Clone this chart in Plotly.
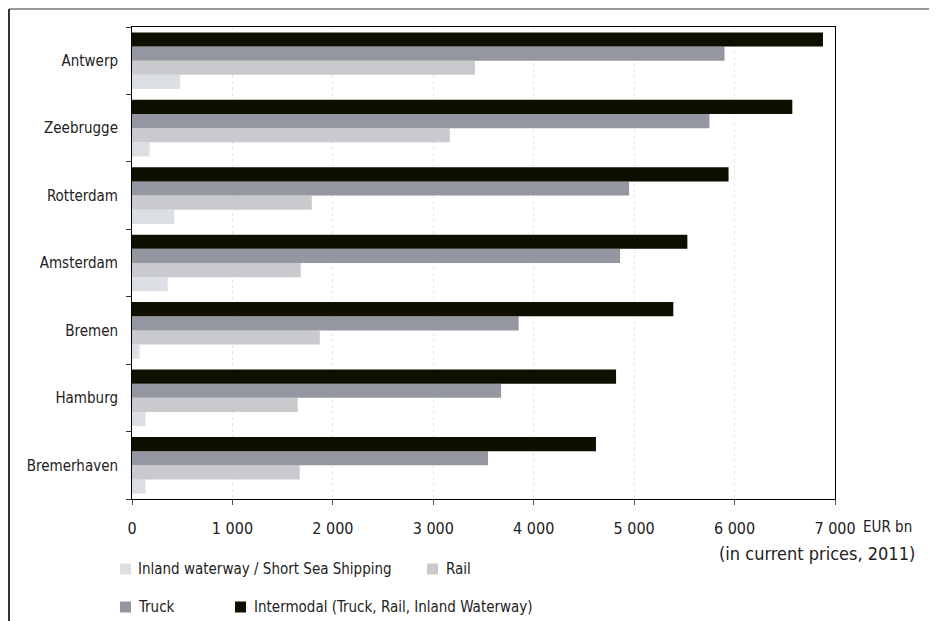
import plotly.graph_objects as go

# ---- data ----
ports = ["Antwerp", "Zeebrugge", "Rotterdam", "Amsterdam", "Bremen", "Hamburg", "Bremerhaven"]
inland = [480, 175, 420, 355, 75, 135, 135]
rail = [3415, 3165, 1790, 1680, 1870, 1650, 1670]
truck = [5900, 5750, 4950, 4860, 3850, 3675, 3545]
intermodal = [6880, 6575, 5940, 5530, 5390, 4820, 4620]

series_names = [
    "Inland waterway / Short Sea Shipping",
    "Rail",
    "Truck",
    "Intermodal (Truck, Rail, Inland Waterway)",
]
series_values = [inland, rail, truck, intermodal]
colors = ["#dcdfe3", "#c9cacd", "#94979f", "#0f0f00"]

x_ticks = [0, 1000, 2000, 3000, 4000, 5000, 6000, 7000]

FONT = "DejaVu Sans Condensed, Liberation Sans, Arial, sans-serif"

# page body has an 8px margin, so the figure starts at (8, 8) in the window
OFF = 8
W, H = 937 - OFF, 621 - OFF
PLOT_L, PLOT_R, PLOT_T, PLOT_B = 132, 835, 27, 499  # page pixels
L, R = PLOT_L - OFF, W - (PLOT_R - OFF)
T, B = PLOT_T - OFF, H - (PLOT_B - OFF)
PW, PH = PLOT_R - PLOT_L, PLOT_B - PLOT_T


def px_x(x):
    return (x - PLOT_L) / PW


def px_y(y):
    return (PLOT_B - y) / PH


fig = go.Figure()
for name, vals, col in zip(series_names, series_values, colors):
    fig.add_trace(go.Bar(
        y=ports, x=vals, name=name, orientation="h",
        marker=dict(color=col, line=dict(width=0)),
        showlegend=False,
    ))

shapes = [
    # outer frame (top and left)
    dict(type="line", xref="paper", yref="paper", x0=px_x(9), x1=px_x(945),
         y0=px_y(9), y1=px_y(9), line=dict(color="#9a9a9a", width=2)),
    dict(type="line", xref="paper", yref="paper", x0=px_x(9), x1=px_x(9),
         y0=px_y(9), y1=px_y(630), line=dict(color="#333333", width=2)),
]

annotations = [
    dict(text="EUR bn", xref="paper", yref="paper", x=px_x(861), y=px_y(527),
         xanchor="left", yanchor="middle", showarrow=False,
         font=dict(family=FONT, size=15, color="#222")),
    dict(text="(in current prices, 2011)", xref="paper", yref="paper", x=px_x(917), y=px_y(553),
         xanchor="right", yanchor="middle", showarrow=False,
         font=dict(family=FONT, size=18, color="#222")),
]

# legend drawn as swatches + labels (two rows, as in the reference)
legend_pos = [(120, 569, 136), (427, 569, 444), (120, 607, 136), (235, 607, 252)]
for (sx, sy, tx), name, col in zip(legend_pos, series_names, colors):
    shapes.append(dict(type="rect", xref="paper", yref="paper",
                       x0=px_x(sx), x1=px_x(sx + 11), y0=px_y(sy + 5.5), y1=px_y(sy - 5.5),
                       fillcolor=col, line=dict(width=0)))
    annotations.append(dict(text=name, xref="paper", yref="paper", x=px_x(tx), y=px_y(sy),
                            xanchor="left", yanchor="middle", showarrow=False,
                            font=dict(family=FONT, size=15, color="#222")))

fig.update_layout(
    width=W, height=H,
    margin=dict(l=L, r=R, t=T, b=B, pad=0),
    paper_bgcolor="white", plot_bgcolor="white",
    barmode="group", bargap=0.16, bargroupgap=0,
    separators=". ",
    font=dict(family=FONT, size=15, color="#222"),
    shapes=shapes, annotations=annotations,
    showlegend=False,
)
fig.update_xaxes(
    range=[0, 7000], tickvals=x_ticks, tickformat=",d", separatethousands=True,
    tickfont=dict(size=16),
    showgrid=True, gridcolor="#e6e6e6", griddash="dot", gridwidth=1,
    showline=True, linecolor="#000", linewidth=1, mirror=True,
    ticks="outside", ticklen=5, tickcolor="#555", ticklabelstandoff=10,
    zeroline=False, fixedrange=True,
)
fig.update_yaxes(
    categoryorder="array", categoryarray=ports[::-1],
    showgrid=False, showline=True, linecolor="#000", linewidth=1, mirror=True,
    ticks="outside", ticklen=5, tickcolor="#333", tickson="boundaries",
    ticklabelstandoff=10, fixedrange=True,
)

fig.write_html("out.html")
